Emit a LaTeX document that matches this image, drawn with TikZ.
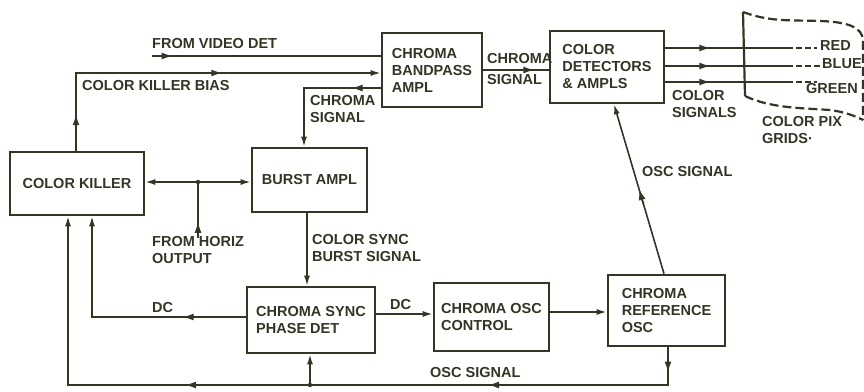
\documentclass[tikz,border=0pt]{standalone}
\usepackage{fontspec}
\setmainfont{Liberation Sans}
\usetikzlibrary{calc,arrows.meta}
\definecolor{ink}{RGB}{50,54,34}
\newcommand{\dfont}{\fontsize{14.5}{17}\selectfont\bfseries}
\tikzset{
  x=1pt, y=-1pt,
  box/.style={draw=ink, line width=2.6pt, align=left, font=\dfont, text=ink, inner sep=0pt},
  conn/.style={draw=ink, line width=1.6pt},
  tipend/.style={-{Latex[length=10pt,width=6pt]}},
  tipmid/.style={-{Latex[length=11pt,width=7pt]}},
  tipboth/.style={{Latex[length=10pt,width=6pt]}-{Latex[length=10pt,width=6pt]}},
  lbl/.style={font=\dfont, text=ink, inner sep=0pt, align=left, anchor=west},
  crt/.style={draw=ink, line width=2.2pt, dash pattern=on 9pt off 4pt},
  dot/.style={fill=ink}
}
% arrowhead placed along the line from #1 to #2, tip at fraction #3
\newcommand{\mida}[3]{\path (#1) -- (#2) coordinate[pos=#3] (mtmp);
  \draw[conn, tipmid] ($(mtmp)!16pt!(#1)$) -- (mtmp);}
\begin{document}
\begin{tikzpicture}
\useasboundingbox (0,0) rectangle (864,391);
% boxes
\node[box, minimum width=100pt, minimum height=74pt] (bp) at (432,70) {CHROMA\\BANDPASS\\AMPL};
\node[box, minimum width=114pt, minimum height=72pt] (cd) at (607,67) {COLOR\\DETECTORS\\\& AMPLS};
\node[box, minimum width=134pt, minimum height=63pt] (ck) at (77,183.5) {COLOR KILLER};
\node[box, minimum width=115pt, minimum height=64pt] (ba) at (309.5,180) {BURST AMPL};
\node[box, minimum width=128pt, minimum height=66pt] (pd) at (311,320) {CHROMA SYNC\\PHASE DET};
\node[box, minimum width=115pt, minimum height=68pt] (oc) at (491.5,317) {CHROMA OSC\\CONTROL};
\node[box, minimum width=117pt, minimum height=71pt] (ro) at (666.5,310.5) {CHROMA\\REFERENCE\\OSC};

% coordinates
\coordinate (vd) at (152,56);
\coordinate (vdr) at (vd -| bp.west);
\coordinate (kb) at (76,73);
\coordinate (kbb) at (kb |- ck.north);
\coordinate (kbr) at (kb -| bp.west);
\coordinate (cs) at (304,88);
\coordinate (csr) at (cs -| bp.west);
\coordinate (csb) at (cs |- ba.north);
\coordinate (cc) at (bp.east -| cd.west);
\coordinate (j1) at (198,182);
\coordinate (ho) at (198,233);
\coordinate (bs) at (307,250);
\coordinate (dc) at (92,317);
\coordinate (dcr) at (dc -| pd.west);
\coordinate (dr) at (400,314);
\coordinate (orr) at (580,312);
\coordinate (ob) at (668,385);
\coordinate (obt) at (ob |- ro.south);
\coordinate (obl) at (68,385);
\coordinate (j2) at (310,385);
\coordinate (dg) at (614,150);
\coordinate (dgt) at (dg |- cd.south);
\coordinate (dgb) at ([xshift=-2.5pt]ro.north);
\coordinate (r1) at (787,48);
\coordinate (r2) at (787,66);
\coordinate (r3) at (787,82);
\coordinate (r1l) at (r1 -| cd.east);
\coordinate (r2l) at (r2 -| cd.east);
\coordinate (r3l) at (r3 -| cd.east);

% connectors
\draw[conn] (vd) -- (vdr);
\mida{vd}{vdr}{0.09}
\draw[conn, tipend] (kbb) -- (kb) -- (kbr);
\mida{kbb}{kb}{0.47}
\mida{kb}{kbr}{0.48}
\draw[conn, tipend] (csr) -- (cs) -- (csb);
\mida{csr}{cs}{0.38}
\draw[conn] (bp.east) -- (cc);
\mida{bp.east}{cc}{0.78}
\foreach \r in {r1,r2,r3}{
  \draw[conn] (\r l) -- (\r);
  \mida{\r l}{\r}{0.37}
}
\draw[conn, dash pattern=on 6pt off 3pt] (r1) -- ++(30,0);
\draw[conn, dash pattern=on 6pt off 3pt] (r2) -- ++(34,0);
\draw[conn, dash pattern=on 6pt off 3pt] (r3) -- ++(30,0);
\draw[conn, tipboth] (ck.east |- j1) -- (ba.west |- j1);
\fill[dot] (j1) circle (2.2pt);
\draw[conn] (ho) -- (j1);
\mida{ho}{j1}{0.22}
\draw[conn, tipend] (bs |- ba.south) -- (bs |- pd.north);
\draw[conn, tipend] (dcr) -- (dc) -- (dc |- ck.south);
\mida{dcr}{dc}{0.41}
\draw[conn, tipend] (dr -| pd.east) -- (dr -| oc.west);
\draw[conn, tipend] (orr -| oc.east) -- (orr -| ro.west);
\draw[conn, tipend] (obt) -- (ob) -- (obl) -- (obl |- ck.south);
\mida{obt}{ob}{0.67}
\mida{ob}{obl}{0.30}
\mida{ob}{obl}{0.805}
\fill[dot] (j2) circle (2.2pt);
\draw[conn, tipend] (j2) -- (j2 |- pd.south);
\draw[conn, tipend] (dgb) -- (dgt);
\mida{dgb}{dgt}{0.5}

% picture tube
\draw[draw=ink, line width=2.2pt] (743,12) -- (745,96);
\draw[crt] (743,12) .. controls (770,22) and (790,20) .. (820,21) .. controls (850,22) and (862,28) .. (863,40) -- (863,120);
\draw[crt] (745,96) .. controls (770,108) and (800,108) .. (830,110) .. controls (845,112) and (855,116) .. (863,120);

% labels
\node[lbl] (l1) at (152,44) {FROM VIDEO DET};
\node[lbl] (l2) at (82,86) {COLOR KILLER BIAS};
\node[lbl] (l3) at (310,109) {CHROMA\\SIGNAL};
\node[lbl] (l4) at (487,59) {CHROMA};
\node[lbl] (l5) at (487,80) {SIGNAL};
\node[lbl] (l6) at (672,104) {COLOR\\SIGNALS};
\node[lbl] (l7) at (642,172) {OSC SIGNAL};
\node[lbl] (l8) at (152,250) {FROM HORIZ\\OUTPUT};
\node[lbl] (l9) at (312,248) {COLOR SYNC\\BURST SIGNAL};
\node[lbl] (l10) at (152,308) {DC};
\node[lbl] (l11) at (390,305) {DC};
\node[lbl] (l12) at (430,373) {OSC SIGNAL};
\node[lbl] (l13) at (820,46) {RED};
\node[lbl] (l14) at (822,64) {BLUE};
\node[lbl] (l15) at (806,89) {GREEN};
\node[lbl] (l16) at (762,130) {COLOR PIX\\GRIDS·};
\end{tikzpicture}
\end{document}
